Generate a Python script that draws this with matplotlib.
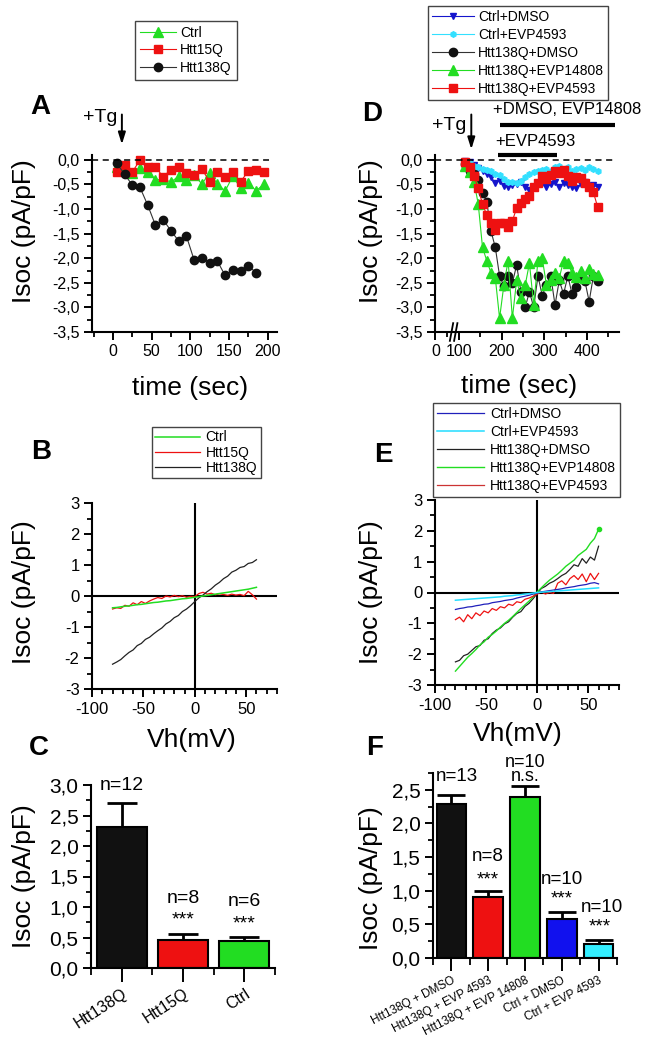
import numpy as np
import matplotlib
matplotlib.use("Agg")
import matplotlib.pyplot as plt
import matplotlib.transforms as mtransforms
from matplotlib.ticker import MultipleLocator, FuncFormatter, FixedLocator

plt.rcParams["font.family"] = ["Liberation Sans", "DejaVu Sans"]
plt.rcParams["axes.unicode_minus"] = False

# ---------------- data ----------------
# Panel A : Isoc time course (pA/pF)
time_A = [5, 15, 25, 35, 45, 55, 65, 75, 85, 95, 105, 115, 125, 135, 145, 155, 165, 175, 185, 195]
A_ctrl = [-0.14, -0.13, -0.26, -0.16, -0.24, -0.41, -0.39, -0.45, -0.33, -0.40, -0.31, -0.49,
          -0.26, -0.49, -0.63, -0.33, -0.58, -0.46, -0.63, -0.49]
A_htt15 = [-0.25, -0.10, -0.25, 0.0, -0.14, -0.15, -0.34, -0.20, -0.14, -0.26, -0.31, -0.19,
           -0.44, -0.25, -0.34, -0.25, -0.44, -0.23, -0.21, -0.25]
time_A138 = [5, 15, 25, 35, 45, 55, 65, 75, 85, 95, 105, 115, 125, 135, 145, 155, 165, 175, 185]
A_htt138 = [-0.07, -0.29, -0.51, -0.56, -0.92, -1.33, -1.22, -1.44, -1.65, -1.55, -2.04, -1.99,
            -2.09, -2.06, -2.35, -2.24, -2.26, -2.16, -2.29]

# Panel D : Isoc time course with drugs
time_D = [115, 125, 135, 145, 155, 165, 175, 185, 195, 205, 215, 225, 235, 245, 255, 265,
          275, 285, 295, 305, 315, 325, 335, 345, 355, 365, 375, 385, 395, 405, 415, 425]
D_ctrl_dmso = [-0.02, -0.05, -0.10, -0.17, -0.22, -0.28, -0.35, -0.47, -0.42, -0.53, -0.55, -0.52,
               -0.50, -0.45, -0.55, -0.62, -0.58, -0.50, -0.47, -0.55, -0.50, -0.45, -0.55, -0.47,
               -0.52, -0.55, -0.58, -0.50, -0.45, -0.55, -0.52, -0.55]
D_ctrl_evp4593 = [-0.02, -0.06, -0.12, -0.15, -0.18, -0.20, -0.22, -0.28, -0.31, -0.38, -0.44, -0.45,
                  -0.47, -0.42, -0.35, -0.28, -0.25, -0.22, -0.20, -0.18, -0.22, -0.15, -0.12, -0.20,
                  -0.14, -0.22, -0.18, -0.16, -0.20, -0.14, -0.18, -0.22]
D_htt138_dmso = [-0.08, -0.22, -0.28, -0.41, -0.68, -0.85, -1.45, -1.78, -2.36, -2.56, -2.36, -2.50,
                 -2.14, -2.68, -3.00, -2.68, -3.00, -2.36, -2.76, -2.54, -2.36, -2.95, -2.45, -2.73,
                 -2.36, -2.73, -2.58, -2.36, -2.46, -2.88, -2.36, -2.46]
D_htt138_evp14808 = [-0.12, -0.25, -0.44, -0.90, -1.78, -2.05, -2.30, -2.40, -3.22, -2.55, -2.05, -3.22,
                     -2.45, -2.80, -2.55, -2.10, -2.95, -2.05, -2.00, -2.55, -2.45, -2.30, -2.40, -2.05,
                     -2.10, -2.30, -2.38, -2.25, -2.40, -2.22, -2.32, -2.35]
D_htt138_evp4593 = [-0.05, -0.15, -0.32, -0.58, -0.90, -1.12, -1.28, -1.42, -1.28, -1.28, -1.36, -1.24,
                    -0.98, -0.88, -0.80, -0.74, -0.55, -0.46, -0.32, -0.38, -0.30, -0.22, -0.26, -0.20,
                    -0.32, -0.42, -0.35, -0.36, -0.47, -0.56, -0.66, -0.96]

# Panels B and E : I-V relations
V_mV = [-80, -76, -72, -68, -64, -60, -56, -52, -48, -44, -40, -36, -32, -28, -24, -20, -16, -12,
        -8, -4, 0, 4, 8, 12, 16, 20, 24, 28, 32, 36, 40, 44, 48, 52, 56, 60]
B_ctrl = [-0.38, -0.37, -0.35, -0.33, -0.32, -0.30, -0.28, -0.27, -0.25, -0.23, -0.21, -0.20,
          -0.18, -0.16, -0.15, -0.13, -0.11, -0.09, -0.08, -0.06, -0.04, -0.02, 0.00, 0.02,
          0.04, 0.06, 0.08, 0.10, 0.12, 0.14, 0.16, 0.18, 0.20, 0.22, 0.25, 0.28]
B_htt15 = [-0.42, -0.38, -0.40, -0.30, -0.33, -0.22, -0.28, -0.18, -0.24, -0.16, -0.10, -0.05,
           -0.08, 0.00, -0.03, 0.02, -0.02, 0.01, -0.04, -0.01, -0.02, 0.08, 0.12, 0.06,
           0.09, 0.04, 0.07, 0.05, 0.02, 0.06, 0.03, 0.05, 0.01, 0.15, 0.04, -0.10]
B_htt138 = [-2.20, -2.13, -2.05, -1.93, -1.82, -1.74, -1.60, -1.53, -1.40, -1.33, -1.22, -1.12,
            -1.03, -0.90, -0.82, -0.70, -0.63, -0.50, -0.42, -0.31, -0.18, -0.06, 0.03, 0.14,
            0.23, 0.35, 0.44, 0.56, 0.64, 0.77, 0.83, 0.92, 0.95, 1.05, 1.08, 1.17]
E_ctrl_dmso = [-0.55, -0.52, -0.50, -0.47, -0.46, -0.43, -0.41, -0.38, -0.37, -0.33, -0.31, -0.29,
               -0.26, -0.24, -0.22, -0.18, -0.15, -0.12, -0.09, -0.05, -0.02, 0.02, 0.04, 0.06,
               0.08, 0.10, 0.12, 0.15, 0.17, 0.19, 0.22, 0.24, 0.26, 0.30, 0.32, 0.28]
E_ctrl_evp4593 = [-0.25, -0.24, -0.23, -0.22, -0.21, -0.20, -0.19, -0.18, -0.17, -0.16, -0.15, -0.14,
                  -0.12, -0.11, -0.10, -0.08, -0.07, -0.05, -0.04, -0.02, 0.00, 0.01, 0.02, 0.03,
                  0.04, 0.05, 0.06, 0.07, 0.08, 0.09, 0.10, 0.11, 0.12, 0.13, 0.14, 0.15]
E_htt138_dmso = [-2.25, -2.20, -2.05, -2.00, -1.88, -1.76, -1.72, -1.55, -1.50, -1.33, -1.22, -1.15,
                 -1.02, -0.95, -0.80, -0.68, -0.62, -0.45, -0.35, -0.20, -0.03, 0.13, 0.20, 0.30,
                 0.36, 0.45, 0.55, 0.62, 0.75, 0.90, 0.85, 1.10, 0.95, 1.15, 1.05, 1.50]
E_htt138_evp14808 = [-2.55, -2.40, -2.25, -2.10, -1.98, -1.85, -1.70, -1.60, -1.45, -1.36, -1.25, -1.12,
                     -1.00, -0.90, -0.78, -0.65, -0.52, -0.40, -0.28, -0.14, 0.02, 0.15, 0.28, 0.40,
                     0.50, 0.60, 0.72, 0.85, 0.95, 1.05, 1.20, 1.30, 1.40, 1.60, 1.75, 2.05]
E_htt138_evp4593 = [-0.88, -0.80, -0.95, -0.72, -0.85, -0.66, -0.75, -0.60, -0.66, -0.52, -0.58, -0.46,
                    -0.50, -0.38, -0.42, -0.30, -0.33, -0.22, -0.18, -0.12, -0.05, 0.02, -0.05, 0.00,
                    -0.03, 0.30, 0.38, 0.25, 0.45, 0.55, 0.42, 0.60, 0.35, 0.62, 0.42, 0.62]

# Panel C : bar summary
C_groups = ["Htt138Q", "Htt15Q", "Ctrl"]
C_mean = [2.31, 0.46, 0.44]
C_sem = [0.40, 0.10, 0.07]
C_n = ["n=12", "n=8", "n=6"]
C_sig = ["", "***", "***"]

# Panel F : bar summary with drugs
F_groups = ["Htt138Q + DMSO", "Htt138Q + EVP 4593", "Htt138Q + EVP 14808", "Ctrl + DMSO", "Ctrl + EVP 4593"]
F_mean = [2.29, 0.90, 2.39, 0.57, 0.20]
F_sem = [0.13, 0.09, 0.16, 0.11, 0.07]
F_n = ["n=13", "n=8", "n=10", "n=10", "n=10"]
F_sig = ["", "***", "n.s.", "***", "***"]

# ---------------- styling helpers ----------------
W, H = 651, 1050
fig = plt.figure(figsize=(W / 100, H / 100), dpi=100)


def fx(px):
    return px / W


def fy(py):
    return 1 - py / H


def axes_px(l, t, r, b):
    return fig.add_axes([fx(l), fy(b), (r - l) / W, (b - t) / H])


def comma(v, pos):
    s = f"{v:.1f}".replace(".", ",")
    return "0,0" if s == "-0,0" else s


def intfmt(v, pos):
    return f"{v:.0f}"


def style(ax, labelsize):
    for s in ["top", "right"]:
        ax.spines[s].set_visible(False)
    for s in ["left", "bottom"]:
        ax.spines[s].set_linewidth(1.5)
    ax.tick_params(which="major", direction="out", length=6, width=1.4, labelsize=labelsize, pad=3)
    ax.tick_params(which="minor", direction="out", length=3.5, width=1.3)


GREEN = "#22dd22"
RED = "#ee1111"
BLACK = "#111111"
BLUE = "#1515cc"
CYAN = "#33e0ff"

# ---------------- Panel A ----------------
axA = axes_px(92, 155, 277, 332)
style(axA, 11.5)
axA.plot(time_A, A_ctrl, color=GREEN, lw=0.8, marker="^", ms=6.5, mec=GREEN, mfc=GREEN, label="Ctrl")
axA.plot(time_A, A_htt15, color=RED, lw=0.8, marker="s", ms=5.5, mec=RED, mfc=RED, label="Htt15Q")
axA.plot(time_A138, A_htt138, color="#333333", lw=0.8, marker="o", ms=6, mec=BLACK, mfc=BLACK, label="Htt138Q")
axA.plot([-27, 202], [0, 0], ls=(0, (4, 3)), color="k", lw=1.1)
axA.set_xlim(-27, 212)
axA.set_ylim(-3.5, 0.1)
axA.xaxis.set_major_locator(MultipleLocator(50))
axA.xaxis.set_minor_locator(MultipleLocator(25))
axA.yaxis.set_major_locator(MultipleLocator(0.5))
axA.yaxis.set_minor_locator(MultipleLocator(0.25))
axA.yaxis.set_major_formatter(FuncFormatter(comma))
axA.annotate("", xy=(11.6, 0.26), xytext=(11.6, 0.98), annotation_clip=False,
             arrowprops=dict(arrowstyle="-|>,head_width=0.22,head_length=0.7", color="k", lw=1.4))
axA.text(5.5, 0.86, "+Tg", ha="right", va="center", fontsize=14, clip_on=False)
axA.legend(loc="upper left", bbox_to_anchor=(fx(135), fy(21)), bbox_transform=fig.transFigure,
           fontsize=10, handlelength=2.6, numpoints=1, borderpad=0.35, labelspacing=0.25,
           handletextpad=0.3, borderaxespad=0, fancybox=False, edgecolor="#444444", framealpha=1)

# ---------------- Panel D ----------------
def brk_fwd(t):
    t = np.asarray(t, dtype=float)
    return np.where(t < 100, 0.553 * t, 55.3 + (t - 100))


def brk_inv(u):
    u = np.asarray(u, dtype=float)
    return np.where(u < 55.3, u / 0.553, u - 55.3 + 100)


axD = axes_px(435, 155, 619, 332)
style(axD, 11.5)
axD.set_xscale("function", functions=(brk_fwd, brk_inv))
axD.plot(time_D, D_ctrl_dmso, color=BLUE, lw=0.8, marker="v", ms=4, mec=BLUE, mfc=BLUE, label="Ctrl+DMSO")
axD.plot(time_D, D_ctrl_evp4593, color=CYAN, lw=0.8, marker="h", ms=4, mec=CYAN, mfc=CYAN, label="Ctrl+EVP4593")
axD.plot(time_D, D_htt138_dmso, color="#333333", lw=0.8, marker="o", ms=6, mec=BLACK, mfc=BLACK, label="Htt138Q+DMSO")
axD.plot(time_D, D_htt138_evp14808, color=GREEN, lw=0.8, marker="^", ms=6.5, mec=GREEN, mfc=GREEN, label="Htt138Q+EVP14808")
axD.plot(time_D, D_htt138_evp4593, color=RED, lw=0.8, marker="s", ms=5.5, mec=RED, mfc=RED, label="Htt138Q+EVP4593")
axD.plot([-2, 466], [0, 0], ls=(0, (4, 3)), color="k", lw=1.1)
axD.set_xlim(-2, 475)
axD.set_ylim(-3.5, 0.1)
axD.xaxis.set_major_locator(FixedLocator([0, 100, 200, 300, 400]))
axD.xaxis.set_minor_locator(FixedLocator([50, 150, 250, 350, 450]))
axD.xaxis.set_major_formatter(FuncFormatter(intfmt))
axD.yaxis.set_major_locator(MultipleLocator(0.5))
axD.yaxis.set_minor_locator(MultipleLocator(0.25))
axD.yaxis.set_major_formatter(FuncFormatter(comma))
blend = mtransforms.blended_transform_factory(axD.transData, axD.transAxes)
for t0 in (68, 86):
    axD.plot([t0 - 7, t0 + 7], [-0.05, 0.05], transform=blend, color="k", lw=1.3, clip_on=False)
axD.annotate("", xy=(128.7, 0.16), xytext=(128.7, 0.98), annotation_clip=False,
             arrowprops=dict(arrowstyle="-|>,head_width=0.22,head_length=0.7", color="k", lw=1.4))
axD.text(118, 0.70, "+Tg", ha="right", va="center", fontsize=14, clip_on=False)
axD.plot([195, 466], [0.71, 0.71], color="k", lw=3, clip_on=False, solid_capstyle="butt")
axD.text(179, 1.03, "+DMSO, EVP14808", ha="left", va="center", fontsize=12, clip_on=False)
axD.plot([191, 329], [0.10, 0.10], color="k", lw=3, clip_on=False, solid_capstyle="butt")
axD.text(184, 0.38, "+EVP4593", ha="left", va="center", fontsize=12, clip_on=False)
axD.legend(loc="upper left", bbox_to_anchor=(fx(428), fy(6)), bbox_transform=fig.transFigure,
           fontsize=10, handlelength=3.0, numpoints=1, borderpad=0.3, labelspacing=0.28,
           handletextpad=0.3, borderaxespad=0, fancybox=False, edgecolor="#444444", framealpha=1)

# ---------------- Panel B ----------------
def iv_axes(ax):
    style(ax, 12)
    ax.set_xlim(-100, 80)
    ax.set_ylim(-3, 3)
    ax.axhline(0, color="k", lw=1.5, zorder=1)
    ax.axvline(0, color="k", lw=1.5, zorder=1)
    ax.xaxis.set_major_locator(MultipleLocator(50))
    ax.xaxis.set_minor_locator(MultipleLocator(10))
    ax.yaxis.set_major_locator(MultipleLocator(1))
    ax.yaxis.set_minor_locator(MultipleLocator(0.5))
    ax.xaxis.set_major_formatter(FuncFormatter(intfmt))
    ax.yaxis.set_major_formatter(FuncFormatter(intfmt))


axB = axes_px(92, 503, 277, 689)
iv_axes(axB)
axB.plot(V_mV, B_ctrl, color=GREEN, lw=1.1, label="Ctrl", zorder=3)
axB.plot(V_mV, B_htt15, color=RED, lw=0.9, label="Htt15Q", zorder=2)
axB.plot(V_mV, B_htt138, color="#222222", lw=0.9, label="Htt138Q", zorder=2)
axB.legend(loc="upper left", bbox_to_anchor=(fx(152), fy(427)), bbox_transform=fig.transFigure,
           fontsize=10, handlelength=3.2, borderpad=0.25, labelspacing=0.08,
           handletextpad=0.4, borderaxespad=0, fancybox=False, edgecolor="#444444", framealpha=1)

# ---------------- Panel E ----------------
axE = axes_px(435, 500, 619, 685)
iv_axes(axE)
axE.plot(V_mV, E_ctrl_dmso, color="#2020bb", lw=0.9, label="Ctrl+DMSO", zorder=3)
axE.plot(V_mV, E_ctrl_evp4593, color="#22ddff", lw=1.1, label="Ctrl+EVP4593", zorder=3)
axE.plot(V_mV, E_htt138_dmso, color="#222222", lw=0.9, label="Htt138Q+DMSO", zorder=2)
axE.plot(V_mV, E_htt138_evp14808, color=GREEN, lw=1.0, label="Htt138Q+EVP14808", zorder=2,
         marker="o", ms=3, markevery=[len(V_mV) - 1])
axE.plot(V_mV, E_htt138_evp4593, color=RED, lw=0.9, label="Htt138Q+EVP4593", zorder=2)
legE = axE.legend(loc="upper left", bbox_to_anchor=(fx(433), fy(403)), bbox_transform=fig.transFigure,
                  fontsize=10, handlelength=3.4, borderpad=0.3, labelspacing=0.28,
                  handletextpad=0.4, borderaxespad=0, fancybox=False, edgecolor="#444444", framealpha=1)
for h in legE.legend_handles:
    h.set_marker("")
legE.legend_handles[4].set_color("#cc3333")

# ---------------- Panel C ----------------
axC = axes_px(91, 785, 275, 968)
style(axC, 15)
xC = np.arange(len(C_groups))
axC.bar(xC, C_mean, width=0.82, color=[BLACK, RED, GREEN], edgecolor="k", linewidth=1.5, zorder=2)
axC.errorbar(xC, C_mean, yerr=[[0] * len(C_sem), C_sem], fmt="none", ecolor="k", elinewidth=2,
             capsize=11, capthick=2, zorder=1)
axC.set_xlim(-0.5, 2.5)
axC.set_ylim(0, 3.0)
axC.yaxis.set_major_locator(MultipleLocator(0.5))
axC.yaxis.set_minor_locator(MultipleLocator(0.25))
axC.yaxis.set_major_formatter(FuncFormatter(comma))
axC.set_xticks(xC)
axC.set_xticks([-0.5, 0.5, 1.5, 2.5], minor=True)
axC.tick_params(axis="x", which="major", length=10)
axC.tick_params(axis="x", which="minor", length=5)
axC.set_xticklabels(C_groups, rotation=33, ha="right", rotation_mode="anchor", fontsize=11.5)
for i in range(len(C_groups)):
    top = C_mean[i] + C_sem[i]
    if i == 0:
        axC.text(xC[i], 3.0, C_n[i], ha="center", va="center", fontsize=14)
    else:
        axC.text(xC[i], top + 0.58, C_n[i], ha="center", va="center", fontsize=14)
        axC.text(xC[i], top + 0.22, C_sig[i], ha="center", va="center", fontsize=14)

# ---------------- Panel F ----------------
axF = axes_px(433, 773, 617, 957.7)
style(axF, 15)
xF = np.arange(len(F_groups))
axF.bar(xF, F_mean, width=0.8, color=[BLACK, RED, GREEN, "#1111ee", "#33eeff"], edgecolor="k",
        linewidth=1.5, zorder=2)
axF.errorbar(xF, F_mean, yerr=[[0] * len(F_sem), F_sem], fmt="none", ecolor="k", elinewidth=2,
             capsize=10, capthick=2, zorder=1)
axF.set_xlim(-0.5, 4.5)
axF.set_ylim(0, 2.75)
axF.yaxis.set_major_locator(MultipleLocator(0.5))
axF.yaxis.set_minor_locator(MultipleLocator(0.25))
axF.yaxis.set_major_formatter(FuncFormatter(comma))
axF.set_xticks(xF)
axF.set_xticks([-0.5, 0.5, 1.5, 2.5, 3.5, 4.5], minor=True)
axF.tick_params(axis="x", which="major", length=9)
axF.tick_params(axis="x", which="minor", length=5)
axF.set_xticklabels(F_groups, rotation=27, ha="right", rotation_mode="anchor", fontsize=8.5)
F_n_pos = [(0.15, 2.70), (0.99, 1.51), None, (3.0, 1.17), (4.09, 0.74)]
F_sig_pos = [None, (0.99, 1.15), None, (3.0, 0.87), (4.02, 0.46)]
for i in range(len(F_groups)):
    if F_n_pos[i] is not None:
        axF.text(*F_n_pos[i], F_n[i], ha="center", va="center", fontsize=13.5, clip_on=False)
    if F_sig_pos[i] is not None:
        axF.text(*F_sig_pos[i], F_sig[i], ha="center", va="center", fontsize=13.5, clip_on=False)
# stacked "n=10 / n.s." label above the EVP14808 bar (one text block)
axF.text(2.0, F_mean[2] + F_sem[2] + 0.02, F_n[2] + "\n" + F_sig[2], ha="center", va="bottom",
         fontsize=13, linespacing=0.78, clip_on=False)

# ---------------- labels ----------------
ylab = "Isoc (pA/pF)"
for (x, y) in [(24, 231), (371, 231), (24, 592), (371, 592), (24, 876), (371, 878)]:
    fig.text(fx(x), fy(y), ylab, rotation=90, ha="center", va="center", fontsize=19)
fig.text(fx(190), fy(388), "time (sec)", ha="center", va="center", fontsize=19)
fig.text(fx(519), fy(386), "time (sec)", ha="center", va="center", fontsize=19)
fig.text(fx(192), fy(740), "Vh(mV)", ha="center", va="center", fontsize=19)
fig.text(fx(518), fy(734), "Vh(mV)", ha="center", va="center", fontsize=19)
for (x, y, s) in [(40, 107, "A"), (372, 114, "D"), (41, 452, "B"), (383, 455, "E"),
                  (39, 748, "C"), (375, 748, "F")]:
    fig.text(fx(x), fy(y), s, ha="center", va="center", fontsize=20, fontweight="bold")

fig.savefig("out.png", dpi=100)
